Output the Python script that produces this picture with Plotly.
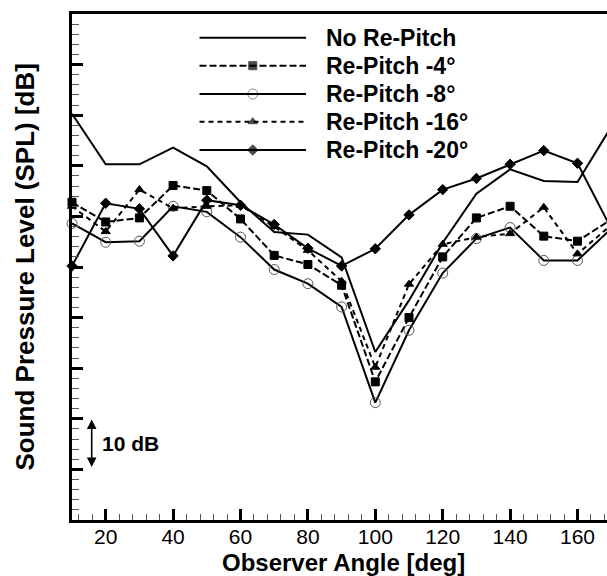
import plotly.graph_objects as go

angles = [10, 20, 30, 40, 50, 60, 70, 80, 90, 100, 110, 120, 130, 140, 150, 160, 170]

no_repitch = [120.3, 110.3, 110.3, 113.6, 109.9, 102.8, 96.9, 96.4, 91.9, 73.2, 83.4, 94.8, 104.5, 109.3, 107.0, 106.8, 117.7]
repitch_4 = [102.8, 98.9, 99.7, 106.1, 105.1, 99.5, 92.3, 90.5, 86.4, 67.3, 80.0, 92.0, 99.7, 102.0, 96.1, 95.1, 99.4]
repitch_8 = [98.6, 94.9, 95.1, 102.0, 100.9, 95.9, 89.5, 86.7, 82.1, 63.2, 77.5, 88.8, 95.6, 97.8, 91.3, 91.3, 97.6]
repitch_16 = [102.0, 97.0, 105.3, 101.6, 102.0, 102.2, 98.0, 93.3, 87.2, 70.2, 86.6, 94.5, 95.9, 96.6, 101.8, 92.6, 98.3]
repitch_20 = [90.2, 102.6, 101.5, 92.2, 103.2, 102.2, 98.4, 93.7, 90.2, 93.6, 100.3, 105.3, 107.5, 110.3, 113.0, 110.5, 97.6]

series_names = ["No Re-Pitch", "Re-Pitch -4°", "Re-Pitch -8°", "Re-Pitch -16°", "Re-Pitch -20°"]
x_tickvals = [20, 40, 60, 80, 100, 120, 140, 160]
x_ticktext = ["20", "40", "60", "80", "100", "120", "140", "160"]

W, H = 607, 576
ML, MT, MB = 72, 14, 56
plot_w = W - ML
plot_h = H - MT - MB

FONT = "Arial"

styles = [
    dict(dash="solid", symbol=None, mcolor="black", msize=0, lw=2),
    dict(dash="7px,3px", symbol="square", mcolor="black", msize=8, lw=2),
    dict(dash="solid", symbol="circle-open", mcolor="#555555", msize=10, lw=2),
    dict(dash="5px,4px", symbol="triangle-up", mcolor="black", msize=8, lw=2),
    dict(dash="solid", symbol="diamond", mcolor="black", msize=8, lw=2),
]
data = [no_repitch, repitch_4, repitch_8, repitch_16, repitch_20]

fig = go.Figure()
for name, ys, st in zip(series_names, data, styles):
    if st["symbol"] is None:
        fig.add_trace(go.Scatter(x=angles, y=ys, mode="lines", name=name,
                                 line=dict(color="black", width=st["lw"], dash=st["dash"]),
                                 showlegend=False, cliponaxis=False))
    else:
        fig.add_trace(go.Scatter(x=angles, y=ys, mode="lines+markers", name=name,
                                 line=dict(color="black", width=st["lw"], dash=st["dash"]),
                                 marker=dict(symbol=st["symbol"], size=st["msize"], color=st["mcolor"],
                                             line=dict(color=st["mcolor"], width=1)),
                                 showlegend=False, cliponaxis=False))

def px_to_paper(px, py):
    return (px - ML) / plot_w, (H - MB - py) / plot_h

shapes = []
annotations = []
# custom legend
rows_y = [37.7, 65.7, 94.0, 121.7, 150.0]
lx0, lx1 = 199.5, 306.0
for name, st, ry in zip(series_names, styles, rows_y):
    x0, y0 = px_to_paper(lx0, ry)
    x1, _ = px_to_paper(lx1, ry)
    shapes.append(dict(type="line", xref="paper", yref="paper", x0=x0, x1=x1, y0=y0, y1=y0,
                       line=dict(color="black", width=2, dash=st["dash"])))
    tx, ty = px_to_paper(324, ry)
    annotations.append(dict(xref="paper", yref="paper", x=tx, y=ty, text="<b>%s</b>" % name,
                            showarrow=False, xanchor="left", yanchor="middle",
                            font=dict(family=FONT, size=23, color="black")))

leg_x = [(lx0 + lx1) / 2] * 4
leg_y = rows_y[1:]
fig.add_trace(go.Scatter(x=leg_x, y=leg_y, mode="markers", xaxis="x2", yaxis="y2",
                         marker=dict(symbol=[s["symbol"] for s in styles[1:]],
                                     size=[s["msize"] for s in styles[1:]],
                                     color=[s["mcolor"] for s in styles[1:]],
                                     line=dict(color=[s["mcolor"] for s in styles[1:]], width=1)),
                         showlegend=False, hoverinfo="skip", cliponaxis=False))

# axis titles
tx, ty = px_to_paper(343, 562)
annotations.append(dict(xref="paper", yref="paper", x=tx, y=ty, text="<b>Observer Angle [deg]</b>",
                        showarrow=False, xanchor="center", yanchor="middle",
                        font=dict(family=FONT, size=24, color="black")))
tx, ty = px_to_paper(24, 267.5)
annotations.append(dict(xref="paper", yref="paper", x=tx, y=ty, text="<b>Sound Pressure Level (SPL) [dB]</b>",
                        showarrow=False, xanchor="center", yanchor="middle", textangle=-90,
                        font=dict(family=FONT, size=26, color="black")))

# 10 dB scale arrow
ax_, ay_ = px_to_paper(91.7, 419.5)
annotations.append(dict(xref="paper", yref="paper", x=ax_, y=ay_, ax=0, ay=49, text="",
                        showarrow=True, arrowhead=2, arrowside="end+start", arrowsize=1.2,
                        arrowwidth=1.6, arrowcolor="black", standoff=0, startstandoff=0))
tx, ty = px_to_paper(100, 443)
annotations.append(dict(xref="paper", yref="paper", x=tx, y=ty, text="<b>10 dB</b>",
                        showarrow=False, xanchor="left", yanchor="middle",
                        font=dict(family=FONT, size=21, color="black")))

fig.update_layout(
    width=W, height=H,
    margin=dict(l=ML, r=0, t=MT, b=MB, pad=0),
    paper_bgcolor="white", plot_bgcolor="white",
    showlegend=False,
    font=dict(family=FONT),
    shapes=shapes, annotations=annotations,
    xaxis=dict(range=[10, 10 + plot_w / 3.37], tickvals=x_tickvals, ticktext=x_ticktext,
               ticks="inside", ticklen=11, tickwidth=2.5, tickcolor="black",
               ticklabelstandoff=-4,
               minor=dict(dtick=4, tick0=0, ticks="inside", ticklen=6, tickwidth=1.2, tickcolor="#555555", showgrid=False),
               showline=True, linewidth=3, linecolor="black", mirror=True,
               showgrid=False, zeroline=False,
               tickfont=dict(family=FONT, size=21, color="black")),
    yaxis=dict(range=[40, 140], dtick=10, tick0=40, showticklabels=False,
               ticks="inside", ticklen=11, tickwidth=2.5, tickcolor="black",
               minor=dict(dtick=2, tick0=40, ticks="inside", ticklen=7, tickwidth=1.2, tickcolor="#555555", showgrid=False),
               showline=True, linewidth=3, linecolor="black", mirror=False,
               showgrid=False, zeroline=False),
    xaxis2=dict(range=[ML, W], overlaying="x", visible=False, fixedrange=True),
    yaxis2=dict(range=[H - MB, MT], overlaying="y", visible=False, fixedrange=True),
)

fig.write_html("out.html")
